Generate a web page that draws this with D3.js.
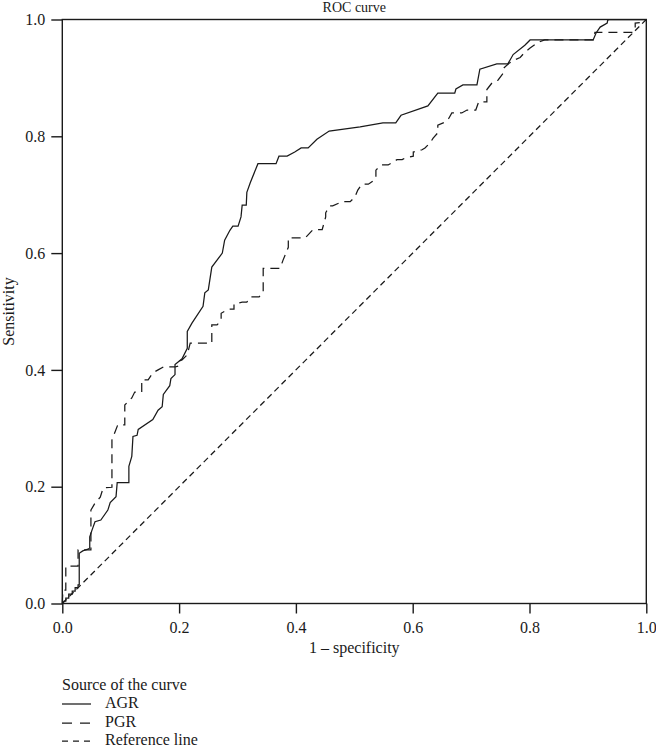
<!DOCTYPE html>
<html>
<head>
<meta charset="utf-8">
<script src="https://cdn.jsdelivr.net/npm/d3@7/dist/d3.min.js"></script>
<style>
  html, body { margin: 0; padding: 0; background: #fff; }
  svg text { font-family: "Liberation Serif", "DejaVu Serif", serif; fill: #1a1a1a; }
</style>
</head>
<body>
<svg id="chart" width="656" height="747"></svg>
<script>
// ---- data ----
const titleText = "ROC curve";
const xLabel = "1 \u2013 specificity";
const yLabel = "Sensitivity";
const tickValues = [0, 0.2, 0.4, 0.6, 0.8, 1.0];
const legendTitle = "Source of the curve";
const seriesNames = ["AGR", "PGR", "Reference line"];

const agrX = [0,0.003,0.006,0.006,0.011,0.011,0.017,0.017,0.022,0.022,0.027,0.027,0.029,0.029,0.035,0.044,0.047,0.047,0.051,0.056,0.066,0.078,0.082,0.092,0.094,0.114,0.114,0.119,0.121,0.128,0.130,0.155,0.164,0.171,0.173,0.184,0.186,0.193,0.193,0.205,0.214,0.214,0.222,0.241,0.244,0.250,0.256,0.274,0.278,0.287,0.292,0.301,0.306,0.308,0.315,0.316,0.322,0.335,0.366,0.371,0.385,0.398,0.409,0.421,0.436,0.457,0.510,0.549,0.571,0.580,0.626,0.643,0.672,0.674,0.686,0.710,0.715,0.744,0.763,0.772,0.792,0.801,0.909,0.914,0.921,0.933,0.934,0.938,1];
const agrY = [0,0.004,0.004,0.009,0.009,0.016,0.016,0.021,0.021,0.027,0.027,0.032,0.032,0.086,0.090,0.093,0.095,0.114,0.126,0.140,0.143,0.160,0.173,0.183,0.207,0.207,0.235,0.252,0.286,0.288,0.298,0.315,0.331,0.337,0.358,0.373,0.385,0.392,0.409,0.419,0.437,0.466,0.480,0.509,0.532,0.537,0.576,0.600,0.622,0.639,0.646,0.646,0.662,0.682,0.682,0.704,0.721,0.753,0.753,0.766,0.766,0.773,0.780,0.780,0.795,0.809,0.816,0.823,0.823,0.836,0.852,0.874,0.874,0.881,0.888,0.888,0.915,0.924,0.924,0.940,0.956,0.965,0.965,0.977,0.987,0.994,0.999,1,1];

const pgrX = [0,0.001,0.006,0.006,0.027,0.027,0.049,0.049,0.056,0.065,0.070,0.085,0.085,0.095,0.107,0.107,0.119,0.124,0.136,0.136,0.147,0.155,0.164,0.173,0.193,0.200,0.200,0.205,0.214,0.216,0.219,0.256,0.256,0.265,0.272,0.272,0.285,0.294,0.294,0.308,0.316,0.322,0.337,0.344,0.344,0.373,0.378,0.387,0.387,0.416,0.429,0.445,0.451,0.451,0.458,0.463,0.479,0.493,0.501,0.506,0.513,0.524,0.537,0.537,0.546,0.558,0.573,0.582,0.587,0.601,0.601,0.616,0.621,0.630,0.635,0.643,0.643,0.655,0.662,0.667,0.684,0.693,0.708,0.713,0.727,0.727,0.737,0.746,0.755,0.755,0.765,0.775,0.784,0.792,0.801,0.815,0.826,0.909,0.912,0.977,0.981,0.981,0.994,1];
const pgrY = [0,0.023,0.023,0.064,0.064,0.092,0.092,0.160,0.172,0.182,0.198,0.199,0.280,0.306,0.306,0.340,0.352,0.362,0.362,0.383,0.383,0.395,0.400,0.405,0.405,0.407,0.415,0.417,0.426,0.434,0.446,0.446,0.477,0.477,0.485,0.497,0.504,0.504,0.513,0.516,0.516,0.525,0.525,0.533,0.574,0.574,0.588,0.610,0.626,0.626,0.640,0.640,0.662,0.669,0.681,0.681,0.688,0.688,0.696,0.708,0.718,0.718,0.727,0.742,0.751,0.751,0.760,0.760,0.763,0.766,0.773,0.777,0.780,0.789,0.797,0.806,0.819,0.824,0.831,0.840,0.840,0.845,0.845,0.859,0.859,0.880,0.893,0.896,0.908,0.916,0.925,0.931,0.935,0.944,0.951,0.961,0.965,0.965,0.978,0.978,0.985,0.994,0.995,1];

const refX = [0, 1];
const refY = [0, 1];

// ---- drawing ----
const svg = d3.select("#chart");
const x = d3.scaleLinear().domain([0, 1]).range([62.3, 646.3]);
const y = d3.scaleLinear().domain([0, 1]).range([603.5, 19.5]);
const ink = "#1a1a1a";

const line = d3.line().x(d => x(d[0])).y(d => y(d[1]));
const zip = (a, b) => a.map((v, i) => [v, b[i]]);

const series = [
  { name: seriesNames[0], pts: zip(agrX, agrY), dash: null },
  { name: seriesNames[1], pts: zip(pgrX, pgrY), dash: "9,6" },
  { name: seriesNames[2], pts: zip(refX, refY), dash: "6,4" }
];

svg.append("g").selectAll("path").data(series).join("path")
  .attr("d", d => line(d.pts))
  .attr("fill", "none")
  .attr("stroke", ink)
  .attr("stroke-width", 1.25)
  .attr("stroke-dasharray", d => d.dash);

// axes
const fmt = d3.format(".1f");
const xAxis = svg.append("g").attr("transform", `translate(0,${y(0)})`)
  .call(d3.axisBottom(x).tickValues(tickValues).tickFormat(fmt).tickSize(10).tickSizeOuter(0).tickPadding(8));
const yAxis = svg.append("g").attr("transform", `translate(${x(0)},0)`)
  .call(d3.axisLeft(y).tickValues(tickValues).tickFormat(fmt).tickSize(11).tickSizeOuter(0).tickPadding(6));
[xAxis, yAxis].forEach(g => {
  g.select(".domain").remove();
  g.selectAll(".tick line").attr("stroke", ink).attr("stroke-width", 1.4);
  g.selectAll(".tick text").attr("font-size", 16).attr("fill", ink)
    .style("font-family", '"Liberation Serif", "DejaVu Serif", serif');
});

// frame
svg.append("rect")
  .attr("x", x(0)).attr("y", y(1))
  .attr("width", x(1) - x(0)).attr("height", y(0) - y(1))
  .attr("fill", "none").attr("stroke", ink).attr("stroke-width", 1.4);

// title
svg.append("text").attr("x", (x(0) + x(1)) / 2).attr("y", 12)
  .attr("text-anchor", "middle").attr("font-size", 14).text(titleText);

// axis titles
svg.append("text").attr("x", (x(0) + x(1)) / 2).attr("y", 653)
  .attr("text-anchor", "middle").attr("font-size", 16).text(xLabel);
svg.append("text").attr("transform", `translate(14,${(y(0) + y(1)) / 2}) rotate(-90)`)
  .attr("text-anchor", "middle").attr("font-size", 16).text(yLabel);

// legend
const lg = svg.append("g");
lg.append("text").attr("x", 62).attr("y", 690).attr("font-size", 16).text(legendTitle);
const rowY = [704, 723, 741];
series.forEach((s, i) => {
  lg.append("line").attr("x1", 62).attr("x2", 91).attr("y1", rowY[i]).attr("y2", rowY[i])
    .attr("stroke", ink).attr("stroke-width", 1.25)
    .attr("stroke-dasharray", i === 1 ? "10,8" : (i === 2 ? "6,5" : null));
  lg.append("text").attr("x", 105).attr("y", rowY[i] + 4).attr("font-size", 16).text(s.name);
});
</script>
</body>
</html>
